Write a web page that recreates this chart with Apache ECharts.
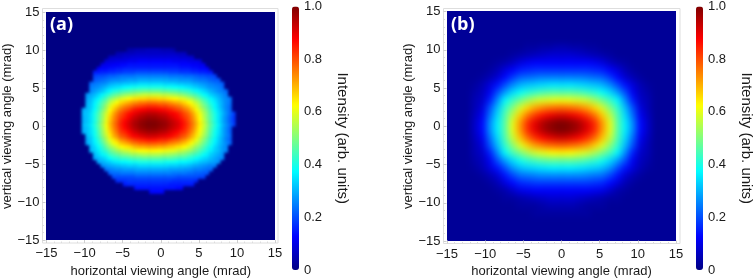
<!DOCTYPE html>
<html><head><meta charset="utf-8">
<style>
html,body{margin:0;padding:0;background:#fff}
#c{width:754px;height:278px}
canvas[data-zr-dom-id="zr_0"]{filter:blur(1.7px);clip-path:path('M46.5 12.5H275V240H46.5Z')}
canvas[data-zr-dom-id="zr_1"]{filter:blur(3.2px);clip-path:path('M447 11.5H676V241H447Z')}
</style>
<script src="https://cdn.jsdelivr.net/npm/echarts@6/dist/echarts.min.js"></script>
</head><body><div id="c"></div>
<script>
const colorTicks=['0','0.2','0.4','0.6','0.8','1.0'];
const jetColors=['#000083','#0000ff','#0080ff','#00ffff','#80ff80','#ffff00','#ff8000','#ff0000','#800000'];
// Panel (a), intensity x100 read on a 0.5 mrad cell grid. Each row starts at rowStartA[r].
const rowYA=[10.25,9.75,9.25,8.75,8.25,7.75,7.25,6.75,6.25,5.75,5.25,4.75,4.25,3.75,3.25,2.75,2.25,1.75,1.25,0.75,0.25,-0.25,-0.75,-1.25,-1.75,-2.25,-2.75,-3.25,-3.75,-4.25,-4.75,-5.25,-5.75,-6.25,-6.75,-7.25,-7.75,-8.25,-8.75];
const rowStartA=[-4.25,-5.75,-6.75,-7.25,-7.75,-8.25,-8.75,-8.75,-8.75,-9.25,-9.25,-9.25,-9.75,-9.75,-9.75,-9.75,-10.25,-10.25,-10.25,-10.25,-10.25,-10.25,-10.25,-9.75,-9.75,-9.75,-9.25,-9.25,-8.75,-8.75,-8.25,-7.75,-7.25,-6.75,-6.25,-5.75,-4.75,-3.25,-1.25];
const intensityA=[
[4,4,5,5,5,6,6,6,6,5,5,5,4],
[5,5,6,6,6,7,7,7,7,7,7,7,7,7,7,7,6,6,6],
[6,7,7,7,8,8,9,9,9,9,9,9,9,9,9,9,9,9,9,8,8,8,7],
[8,9,9,10,10,10,11,11,11,12,12,12,12,12,12,12,12,12,11,11,11,11,10,10,10,9],
[10,11,11,12,12,13,13,14,14,14,14,14,14,14,14,14,14,14,14,14,14,13,13,13,12,12,11,11],
[12,13,13,14,14,15,15,16,16,16,16,16,16,16,16,16,16,16,16,16,16,16,15,15,15,14,14,13,13,12],
[15,15,16,16,17,17,18,18,19,19,19,20,20,20,20,20,20,20,20,20,19,19,19,18,18,18,17,17,16,16,15,15],
[19,20,20,21,22,22,23,24,24,24,24,25,25,25,25,25,25,25,25,25,24,24,24,24,23,23,23,22,21,21,20,20,19],
[21,22,23,24,25,26,26,27,27,28,28,28,29,29,29,29,29,29,29,29,28,28,28,27,27,27,26,25,24,24,23,22,21,21],
[23,24,25,26,27,29,30,31,31,32,32,33,33,34,34,34,34,34,34,34,33,33,33,32,32,31,31,30,29,28,27,26,25,24,23,22],
[25,26,27,29,31,33,34,35,36,37,38,39,39,40,40,40,40,40,40,40,39,39,38,38,37,36,35,34,33,31,30,28,27,26,25,23],
[26,28,30,32,35,37,40,41,43,44,45,46,47,47,48,48,48,48,48,47,47,46,46,45,44,43,42,40,38,36,34,32,30,28,26,25,23],
[28,29,31,34,37,40,43,46,48,50,52,53,54,55,56,57,57,57,57,57,56,56,55,54,53,52,50,48,46,44,41,38,36,33,31,29,27,25],
[29,31,34,37,41,45,50,53,56,59,60,62,64,65,66,66,67,67,67,66,66,65,64,63,62,60,59,56,54,50,47,43,40,37,34,31,28,26,24],
[30,32,36,40,45,49,55,59,62,66,68,70,72,73,75,75,76,76,76,75,75,74,73,71,70,68,66,63,60,56,52,47,43,39,36,32,29,26,24],
[31,33,37,42,47,53,59,64,67,71,74,76,78,80,81,82,83,83,83,82,81,81,79,78,76,74,71,68,64,60,55,50,46,41,37,33,29,26,23],
[30,31,34,38,43,49,55,62,67,72,76,79,81,84,86,87,88,89,89,89,88,87,86,85,83,81,79,76,73,68,63,58,53,48,43,38,34,30,26,23],
[31,32,35,40,45,52,58,65,71,76,80,83,86,88,90,92,93,94,94,94,93,92,91,89,88,86,83,80,77,72,66,61,55,50,44,40,35,31,27,23,19],
[30,32,35,40,46,52,59,67,73,78,82,85,88,91,93,95,96,97,97,97,96,95,94,92,90,88,85,82,79,74,68,62,56,50,45,40,35,30,26,22,18],
[30,32,35,40,46,53,60,68,74,79,84,87,90,93,95,97,98,99,99,99,98,97,96,94,92,90,87,84,80,75,69,63,57,51,45,40,35,30,26,22,18],
[31,33,36,41,47,54,61,69,75,80,85,88,91,94,96,98,99,100,100,100,99,98,97,95,93,91,88,85,81,76,70,64,58,52,46,41,36,31,27,23,19],
[30,32,35,40,46,53,60,68,74,79,84,87,90,93,95,97,98,99,99,99,98,97,96,94,92,90,87,84,80,75,69,63,57,51,45,40,35,30,26,22],
[30,32,35,39,45,52,59,66,72,77,82,84,87,90,92,94,95,96,96,96,95,94,93,91,89,87,84,82,78,73,67,61,56,50,44,39,35,30,26,22],
[32,34,39,44,51,57,64,70,74,79,81,84,87,88,90,91,92,92,92,91,90,89,88,86,84,81,79,75,70,65,60,54,49,43,39,34,30,26,23],
[30,33,37,42,48,54,60,65,69,74,76,79,81,83,84,85,86,86,86,85,84,84,82,80,79,76,74,70,66,61,56,51,46,41,37,33,29,25,22],
[30,32,36,40,45,51,56,61,64,68,70,72,75,76,78,78,79,79,79,78,78,77,75,74,72,70,68,65,61,57,53,48,44,40,36,32,29,26,23],
[31,34,38,42,47,52,55,59,62,64,65,67,69,70,70,71,71,71,70,70,69,68,67,65,64,62,59,56,52,49,45,41,38,34,31,28,26],
[31,33,36,40,43,47,50,53,55,57,58,60,61,62,62,63,63,63,62,62,61,60,60,58,57,55,53,51,48,45,42,39,36,33,31,28,26],
[31,34,37,39,43,45,47,49,50,51,53,53,54,55,55,55,55,55,54,54,53,52,51,50,49,47,45,43,41,38,36,33,31,29,27],
[29,31,33,35,38,40,41,43,43,44,45,46,46,47,47,47,47,47,46,46,46,45,44,43,43,41,40,38,36,34,33,31,29,27,26],
[29,30,32,33,35,36,37,37,38,39,39,40,40,40,40,40,40,40,39,39,39,38,37,37,36,35,34,32,31,30,29,28,27],
[27,28,29,30,31,32,32,33,33,33,34,34,34,34,34,34,34,34,33,33,33,32,32,31,30,29,28,27,26,25,25],
[24,25,26,27,27,28,28,28,29,29,29,29,29,29,29,29,29,28,28,28,28,27,27,26,25,25,24,23,23],
[22,23,23,24,24,24,24,25,25,25,25,25,25,25,25,25,25,24,24,24,24,23,23,22,22,21,21],
[20,20,20,20,20,20,21,21,21,21,21,21,21,21,21,21,21,20,20,20,20,20,20,19,19],
[17,17,17,18,18,18,18,18,18,18,18,18,18,18,18,17,17,17,17,17,17,16],
[15,16,16,16,16,16,16,16,16,16,16,16,15,15,15,15,15,15,15],
[14,14,14,14,14,14,14,14,14,14,14,13,13],
[13,13,13,13]
];
// Panel (b), intensity x100 on a 1 mrad cell grid
const rowYB=[10.5,9.5,8.5,7.5,6.5,5.5,4.5,3.5,2.5,1.5,0.5,-0.5,-1.5,-2.5,-3.5,-4.5,-5.5,-6.5,-7.5,-8.5,-9.5,-10.5,-11.5];
const rowStartB=[-11.5,-11.5,-11.5,-11.5,-11.5,-11.5,-11.5,-11.5,-11.5,-11.5,-11.5,-11.5,-11.5,-11.5,-11.5,-11.5,-11.5,-11.5,-11.5,-11.5,-11.5,-11.5,-11.5];
const intensityB=[
[2,2,2,2,2,2,2,3,3,4,4,5,5,4,4,3,3,2,2,2,2,2,2,2],
[2,2,2,2,2,3,4,5,6,7,8,8,8,8,7,6,5,4,3,2,2,2,2,2],
[2,2,2,3,4,6,9,11,12,12,12,12,12,12,12,12,11,9,6,4,3,2,2,2],
[2,2,3,5,9,12,15,16,17,17,17,17,17,17,17,17,16,15,12,9,5,3,2,2],
[2,3,5,8,13,18,22,23,24,25,25,25,25,25,25,24,23,22,18,13,8,5,3,2],
[3,5,9,14,20,26,30,32,33,34,35,35,35,35,34,33,32,30,26,20,14,9,5,3],
[4,6,11,20,28,34,38,41,43,45,46,46,46,46,45,43,41,38,34,28,20,11,6,4],
[5,7,15,26,37,43,48,53,57,59,60,61,61,60,59,57,53,48,43,37,26,15,7,5],
[5,9,20,31,42,50,58,66,71,74,76,77,77,76,74,71,66,58,50,42,31,20,9,5],
[6,11,23,34,45,56,67,76,82,86,89,91,91,89,86,82,76,67,56,45,34,23,11,6],
[7,13,26,36,46,60,72,83,90,95,98,100,100,98,95,90,83,72,60,46,36,26,13,7],
[7,13,26,36,46,60,72,83,90,95,98,100,100,98,95,90,83,72,60,46,36,26,13,7],
[6,11,23,34,45,57,68,77,83,87,90,92,92,90,87,83,77,68,57,45,34,23,11,6],
[5,9,20,31,42,51,59,67,72,75,77,78,78,77,75,72,67,59,51,42,31,20,9,5],
[5,7,15,26,37,44,49,54,58,60,62,63,63,62,60,58,54,49,44,37,26,15,7,5],
[4,6,11,20,28,34,39,42,44,46,47,47,47,47,46,44,42,39,34,28,20,11,6,4],
[3,5,9,14,20,27,31,33,34,35,36,36,36,36,35,34,33,31,27,20,14,9,5,3],
[2,3,5,8,14,19,23,24,25,26,26,26,26,26,26,25,24,23,19,14,8,5,3,2],
[2,2,3,5,9,13,16,17,18,18,18,18,18,18,18,18,17,16,13,9,5,3,2,2],
[2,2,2,3,4,7,10,11,12,12,12,12,12,12,12,12,11,10,7,4,3,2,2,2],
[2,2,2,2,3,3,4,5,6,7,8,8,8,8,7,6,5,4,3,3,2,2,2,2],
[2,2,2,2,2,2,3,3,3,4,5,5,5,5,4,3,3,3,2,2,2,2,2,2],
[2,2,2,2,2,2,2,2,3,3,3,3,3,3,3,3,2,2,2,2,2,2,2,2]
];
const backgroundA=0, backgroundB=2;
const cellsA=[],cellsB=[];
for(let v=-16.75;v<=16.75;v+=0.5)cellsA.push(v);
for(let v=-16.5;v<=16.5;v+=1)cellsB.push(v);
function cells(cats,step,ys,starts,rows,bg){
  const out=[];
  cats.forEach((cy,j)=>cats.forEach((cx,i)=>{
    const r=ys.indexOf(cy);let v=bg;
    if(r>=0){const c=Math.round((cx-starts[r])/step);if(c>=0&&c<rows[r].length)v=rows[r][c];}
    out.push([i,j,v/100]);
  }));
  return out;
}
const FONT='"Liberation Sans",Arial,sans-serif',INK='#1a1a1a';
const TOP=2;
const panels=[
 {x0:46.5,x1:275,y0:12.5,y1:240,fx0:42.5,fx1:278,fy0:8.5,fy1:243,cx:292,ct:6.5,tag:'(a)',tx:50,ty:16,cats:cellsA,data:cells(cellsA,0.5,rowYA,rowStartA,intensityA,backgroundA)},
 {x0:447,x1:676,y0:11.5,y1:241,fx0:443.5,fx1:680,fy0:8.5,fy1:243.5,cx:696,ct:6.5,tag:'(b)',tx:451,ty:16,cats:cellsB,data:cells(cellsB,1,rowYB,rowStartB,intensityB,backgroundB)}
];
const fmt=v=>String(v).replace('-','\u2212');
const grid=[],xAxis=[],yAxis=[],series=[],visualMap=[],graphic=[];
function addGrid(l,t,r,b,extra){grid.push(Object.assign({left:l,top:t,width:r-l,height:b-t,containLabel:false,outerBoundsMode:'none',zlevel:TOP},extra||{}));return grid.length-1;}
panels.forEach((p,k)=>{
  const sx=(p.x1-p.x0)/30,sy=(p.y1-p.y0)/30,mx=1.75;
  const g=addGrid(p.x0-sx*mx,p.y0-sy*mx,p.x1+sx*mx,p.y1+sy*mx,{zlevel:k,show:true,borderWidth:0,backgroundColor:jetColors[0]});
  xAxis.push({gridIndex:g,type:'category',data:p.cats,show:false,zlevel:k});
  yAxis.push({gridIndex:g,type:'category',data:p.cats,show:false,zlevel:k});
  series.push({type:'heatmap',xAxisIndex:g,yAxisIndex:g,zlevel:k,progressive:0,animation:false,silent:true,data:p.data});
  const f=addGrid(p.fx0,p.fy0,p.fx1,p.fy1,{show:true,borderColor:'#dedede',borderWidth:1,backgroundColor:'transparent'});
  xAxis.push({gridIndex:f,type:'value',show:false,min:0,max:1,zlevel:TOP});
  yAxis.push({gridIndex:f,type:'value',show:false,min:0,max:1,zlevel:TOP});
  const a=addGrid(p.x0,p.y0,p.x1,p.y1);
  const ax={type:'value',gridIndex:a,min:-15,max:15,interval:5,zlevel:TOP,splitLine:{show:false},
    axisLine:{show:false,onZero:false},
    axisTick:{show:true,inside:true,length:3,lineStyle:{color:'#cfcfcf',width:1}},
    minorTick:{show:true,splitNumber:5,length:1.5,lineStyle:{color:'#dcdcdc',width:1}},
    nameLocation:'middle',nameTextStyle:{fontFamily:FONT,fontSize:13,color:INK},
    axisLabel:{formatter:fmt,fontFamily:FONT,fontSize:13,color:INK,hideOverlap:false,showMinLabel:true,showMaxLabel:true}};
  xAxis.push(Object.assign({},ax,{position:'bottom',offset:p.fy1-p.y1,name:'horizontal viewing angle (mrad)',nameGap:16,axisLabel:Object.assign({},ax.axisLabel,{margin:4})}));
  yAxis.push(Object.assign({},ax,{position:'left',offset:p.x0-p.fx0,name:'vertical viewing angle (mrad)',nameGap:21,axisLabel:Object.assign({},ax.axisLabel,{margin:3})}));
  const c=addGrid(p.cx,p.ct,p.cx+7,p.ct+263.5);
  xAxis.push({gridIndex:c,type:'value',show:false,min:0,max:1,zlevel:TOP});
  yAxis.push({gridIndex:c,type:'value',position:'right',min:0,max:1,interval:0.2,zlevel:TOP,
    splitLine:{show:false},axisLine:{show:false,onZero:false},axisTick:{show:false},
    name:'Intensity (arb. units)',nameLocation:'middle',nameRotate:-90,nameGap:36,nameTextStyle:{fontFamily:FONT,fontSize:15,color:INK},
    axisLabel:{margin:5,fontFamily:FONT,fontSize:13,color:INK,formatter:v=>colorTicks[Math.round(v*5)]}});
  visualMap.push({type:'continuous',seriesIndex:k,min:0,max:1,left:p.cx,top:p.ct,itemWidth:7,itemHeight:263.5,padding:0,text:null,showLabel:false,calculable:false,realtime:false,hoverLink:false,zlevel:TOP,inRange:{color:jetColors}});
  graphic.push({type:'text',zlevel:TOP,left:p.tx,top:p.ty,silent:true,style:{text:p.tag,fill:'#fff',font:'bold 18px "Open Sans",sans-serif'}});
});
const chart=echarts.init(document.getElementById('c'),null,{renderer:'canvas',width:754,height:278});
chart.setOption({animation:false,tooltip:{show:false},grid,xAxis,yAxis,series,visualMap,graphic});
</script></body></html>
